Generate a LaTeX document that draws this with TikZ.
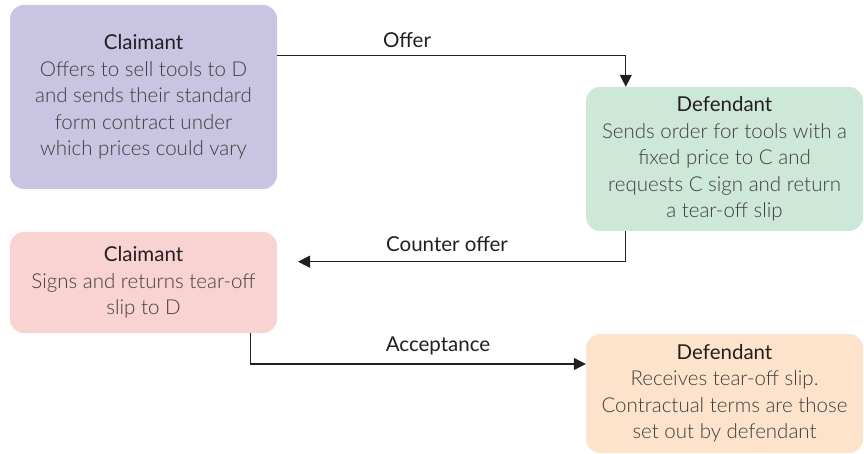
\documentclass[tikz,border=0pt]{standalone}
\usepackage{fontspec}
\IfFontExistsTF{Lato Light}{\setmainfont{Lato Light}}{\setmainfont{Lato}}
\newfontfamily\headfont{Lato}
\usetikzlibrary{arrows.meta}
\definecolor{boxpurple}{HTML}{C8C4E1}
\definecolor{boxgreen}{HTML}{CDE8D8}
\definecolor{boxpink}{HTML}{F9D3D2}
\definecolor{boxorange}{HTML}{FDE3CB}
\definecolor{titletext}{HTML}{231F20}
\definecolor{bodytext}{HTML}{403D3E}
\definecolor{linecol}{HTML}{231F20}
\newcommand{\party}[1]{{\headfont\color{titletext}#1}}
\begin{document}
\begin{tikzpicture}[x=1pt,y=-1pt,
  box/.style={rounded corners=14pt, inner sep=0pt, align=center,
    text=bodytext, font={\fontsize{20.5}{26.5}\selectfont}},
  lbl/.style={text=linecol, inner sep=0pt,
    font={\headfont\fontsize{20.5}{24}\selectfont}},
  arr/.style={draw=linecol, line width=1.2pt,
    -{Triangle[width=12pt,length=12pt]}}]
\useasboundingbox (0,0) rectangle (864,454);

% the four parties' steps
\node[box, fill=boxpurple, minimum width=267pt, minimum height=184pt]
  (c1) at (143.5,97)
  {\party{Claimant}\\Offers to sell tools to D\\and sends their standard\\form contract under\\which prices could vary};
\node[box, fill=boxgreen, minimum width=277pt, minimum height=144pt]
  (d1) at (724.5,159)
  {\party{Defendant}\\Sends order for tools with a\\fixed price to C and\\requests C sign and return\\a tear-off slip};
\node[box, fill=boxpink, minimum width=267pt, minimum height=101pt]
  (c2) at (143.5,282.5)
  {\party{Claimant}\\Signs and returns tear-off\\slip to D};
\node[box, fill=boxorange, minimum width=277pt, minimum height=119pt]
  (d2) at (724.5,393.5)
  {\party{Defendant}\\Receives tear-off slip.\\Contractual terms are those\\set out by defendant};

% exchanges between the parties
\coordinate (ctip) at (298,261.7);
\draw[arr] (c1.east |- 0,55.7) -| ([xshift=40pt]d1.north west);
\draw[arr] ([xshift=40pt]d1.south west) |- (ctip);
\draw[arr] ([xshift=-27pt]c2.south east) |- (d2.west |- 0,364);

\node[lbl] (loffer) at (407,40) {Offer};
\node[lbl] (lcounter) at (447,244) {Counter offer};
\node[lbl] (lacc) at (438,346) {Acceptance};
\end{tikzpicture}
\end{document}
